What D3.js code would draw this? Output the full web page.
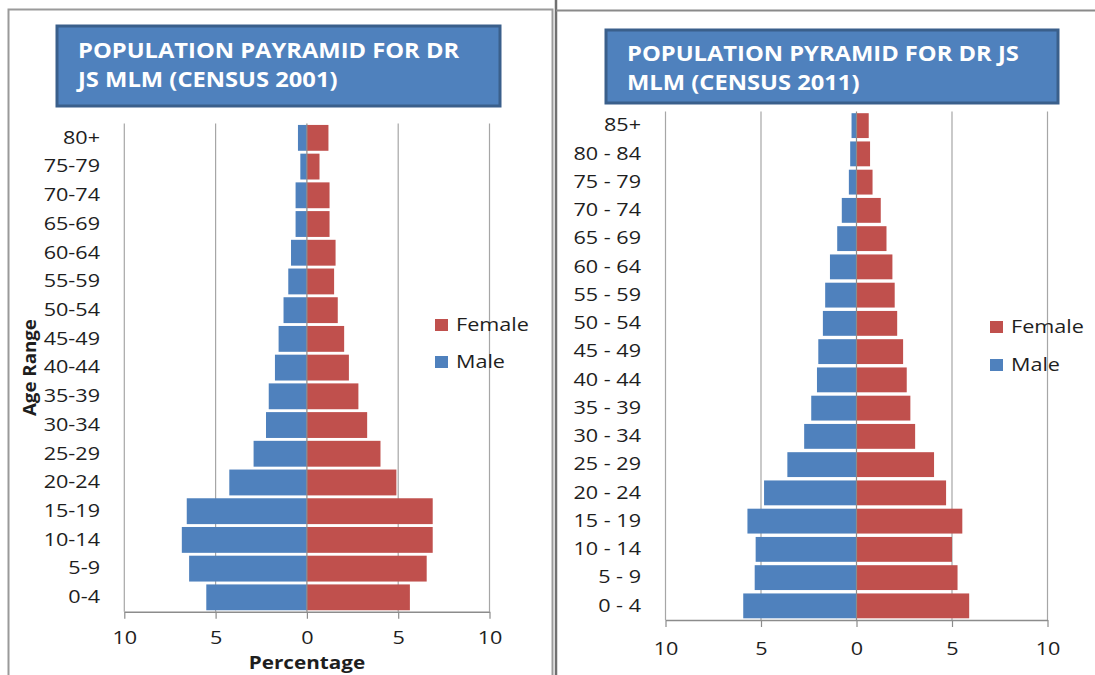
<!DOCTYPE html>
<html>
<head>
<meta charset="utf-8">
<script src="https://d3js.org/d3.v7.min.js"></script>
<style>
  html, body { margin: 0; padding: 0; background: #fff; }
  svg { display: block; }
  text { font-family: "Open Sans", "Noto Sans", sans-serif; fill: #1e1e1e; }
</style>
</head>
<body>
<svg id="chart" width="1095" height="675"></svg>
<script>
// Age groups and percentage shares, census 2001 (bottom to top)
const ages2001 = ["0-4", "5-9", "10-14", "15-19", "20-24", "25-29", "30-34", "35-39",
  "40-44", "45-49", "50-54", "55-59", "60-64", "65-69", "70-74", "75-79", "80+"];
const male2001 = [5.51, 6.45, 6.85, 6.58, 4.25, 2.92, 2.24, 2.09,
  1.75, 1.55, 1.28, 1.02, 0.87, 0.62, 0.62, 0.36, 0.49];
const female2001 = [5.64, 6.56, 6.89, 6.89, 4.90, 4.03, 3.30, 2.82,
  2.30, 2.04, 1.69, 1.49, 1.57, 1.24, 1.24, 0.69, 1.18];

// Age groups and percentage shares, census 2011 (bottom to top)
const ages2011 = ["0 - 4", "5 - 9", "10 - 14", "15 - 19", "20 - 24", "25 - 29", "30 - 34",
  "35 - 39", "40 - 44", "45 - 49", "50 - 54", "55 - 59", "60 - 64", "65 - 69",
  "70 - 74", "75 - 79", "80 - 84", "85+"];
const male2011 = [5.93, 5.33, 5.28, 5.71, 4.84, 3.62, 2.74, 2.37, 2.07, 2.00,
  1.76, 1.64, 1.39, 1.01, 0.77, 0.40, 0.33, 0.26];
const female2011 = [5.90, 5.29, 5.00, 5.54, 4.69, 4.06, 3.07, 2.82, 2.63, 2.44,
  2.13, 2.00, 1.88, 1.57, 1.27, 0.84, 0.71, 0.64];

// Axis ticks (negative side shows male shares)
const xTicks = [-10, -5, 0, 5, 10];
const seriesNames = ["Female", "Male"];

const COLORS = { Male: "#4F81BD", Female: "#C0504D" };
const SX = 1.2;            // horizontal stretch applied to text
const FONT = 18;

const svg = d3.select("#chart");

// Panel frames
svg.append("rect")
  .attr("x", 8.5).attr("y", 9.5).attr("width", 544).attr("height", 700)
  .attr("fill", "none").attr("stroke", "#9a9a9a").attr("stroke-width", 2);
svg.append("line")
  .attr("x1", 556).attr("x2", 556).attr("y1", 0).attr("y2", 675)
  .attr("stroke", "#707070").attr("stroke-width", 2.5);
svg.append("line")
  .attr("x1", 556).attr("x2", 1095).attr("y1", 10.5).attr("y2", 10.5)
  .attr("stroke", "#8a8a8a").attr("stroke-width", 2);

function stretchedText(g, x, y, str, opts = {}) {
  const t = g.append("text")
    .attr("transform", `translate(${x},${y}) scale(${opts.sx || SX},1)`)
    .attr("font-size", opts.size || FONT)
    .attr("text-anchor", opts.anchor || "start")
    .text(str);
  if (opts.weight) t.attr("font-weight", opts.weight);
  if (opts.fill) t.style("fill", opts.fill);
  if (opts.dy) t.attr("dy", opts.dy);
  return t;
}

function drawPyramid(cfg) {
  const g = svg.append("g");

  // Title box
  g.append("rect")
    .attr("x", cfg.title.x).attr("y", cfg.title.y)
    .attr("width", cfg.title.w).attr("height", cfg.title.h)
    .attr("fill", "#4F81BD").attr("stroke", "#3A5F8B").attr("stroke-width", 3);
  cfg.title.lines.forEach((line, i) => {
    stretchedText(g, cfg.title.tx, cfg.title.ty + i * 29, line,
      { size: 21, weight: "bold", fill: "#fff", sx: cfg.title.sx });
  });

  const x = d3.scaleLinear().domain([-10, 10]).range([cfg.x0, cfg.x1]);
  const y = d3.scaleBand()
    .domain(cfg.ages.slice().reverse())
    .range([cfg.y0, cfg.y1])
    .paddingInner(cfg.pad).paddingOuter(cfg.pad / 2);

  // Vertical gridlines
  g.append("g").selectAll("line")
    .data(xTicks.filter(d => d !== 0))
    .join("line")
    .attr("x1", d => x(d)).attr("x2", d => x(d))
    .attr("y1", cfg.y0).attr("y2", cfg.y1)
    .attr("stroke", "#a6a6a6").attr("stroke-width", 1.2);

  const rows = cfg.ages.map((a, i) => ({ age: a, male: cfg.male[i], female: cfg.female[i] }));

  // Male bars to the left, female bars to the right
  g.append("g").selectAll("rect")
    .data(rows).join("rect")
    .attr("x", d => x(-d.male)).attr("y", d => y(d.age))
    .attr("width", d => x(0) - x(-d.male)).attr("height", y.bandwidth())
    .attr("fill", COLORS.Male);
  g.append("g").selectAll("rect")
    .data(rows).join("rect")
    .attr("x", x(0)).attr("y", d => y(d.age))
    .attr("width", d => x(d.female) - x(0)).attr("height", y.bandwidth())
    .attr("fill", COLORS.Female);

  // Category axis line at zero
  g.append("line")
    .attr("x1", x(0)).attr("x2", x(0)).attr("y1", cfg.y0).attr("y2", cfg.y1)
    .attr("stroke", "#8c8c8c").attr("stroke-width", 1.2);

  // Bottom value axis
  const xAxis = g.append("g")
    .attr("transform", `translate(0,${cfg.y1})`)
    .call(d3.axisBottom(x).tickValues(xTicks).tickFormat(d => Math.abs(d))
      .tickSize(7).tickSizeOuter(0).tickPadding(cfg.tickPad));
  xAxis.select(".domain").attr("stroke", "#8c8c8c").attr("stroke-width", 1.5);
  xAxis.selectAll(".tick line").attr("stroke", "#8c8c8c").attr("stroke-width", 1.2);
  xAxis.selectAll(".tick text")
    .attr("font-size", FONT).attr("font-family", null)
    .attr("transform", `scale(${SX},1)`);

  // Age group labels on the left
  const yAxis = g.append("g")
    .attr("transform", `translate(${cfg.labelX},0)`)
    .call(d3.axisLeft(y).tickSize(0).tickPadding(0));
  yAxis.select(".domain").remove();
  yAxis.selectAll(".tick text")
    .attr("font-size", FONT).attr("font-family", null)
    .attr("transform", `scale(${SX},1)`);

  // Legend
  seriesNames.forEach((name, i) => {
    const ly = cfg.legend.y + i * cfg.legend.gap;
    g.append("rect")
      .attr("x", cfg.legend.x).attr("y", ly - 6)
      .attr("width", 13).attr("height", 12)
      .attr("fill", COLORS[name]);
    stretchedText(g, cfg.legend.x + 21, ly, name, { dy: "0.35em" });
  });

  if (cfg.xTitle) {
    stretchedText(g, x(0), cfg.xTitle.y, cfg.xTitle.text,
      { weight: "bold", anchor: "middle", sx: 1.15 });
  }
  if (cfg.yTitle) {
    g.append("text")
      .attr("transform", `translate(${cfg.yTitle.x},${(cfg.y0 + cfg.y1) / 2}) rotate(-90) scale(1.1,1)`)
      .attr("font-size", 17).attr("font-weight", "bold")
      .attr("text-anchor", "middle")
      .text(cfg.yTitle.text);
  }
}

drawPyramid({
  ages: ages2001, male: male2001, female: female2001,
  x0: 124.3, x1: 489.5, y0: 123.5, y1: 611.7, pad: 0.1,
  labelX: 100, tickPad: 13,
  title: { x: 57, y: 26, w: 443, h: 80, tx: 78, ty: 58, sx: 1.13,
           lines: ["POPULATION PAYRAMID FOR DR", "JS MLM (CENSUS 2001)"] },
  legend: { x: 435, y: 325, gap: 37 },
  xTitle: { y: 669, text: "Percentage" },
  yTitle: { x: 36, text: "Age Range" }
});

drawPyramid({
  ages: ages2011, male: male2011, female: female2011,
  x0: 665.5, x1: 1047.5, y0: 111.5, y1: 620, pad: 0.12,
  labelX: 641, tickPad: 15,
  title: { x: 606, y: 30, w: 452, h: 73, tx: 627, ty: 61, sx: 1.13,
           lines: ["POPULATION PYRAMID FOR DR JS", "MLM (CENSUS 2011)"] },
  legend: { x: 990, y: 327, gap: 38 }
});
</script>
</body>
</html>
